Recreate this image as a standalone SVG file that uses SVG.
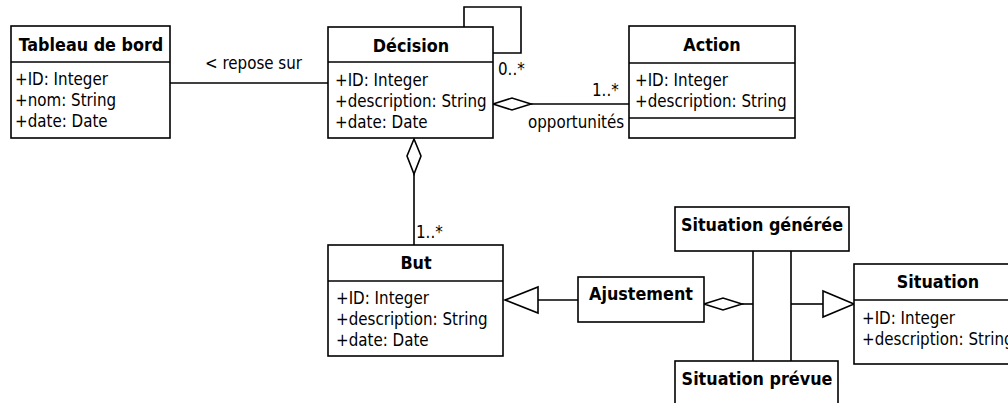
<svg xmlns="http://www.w3.org/2000/svg" width="1008" height="403" viewBox="0 0 1008 403">
<style>
.box{fill:#fff;stroke:#000;stroke-width:1.6}
.ln{fill:none;stroke:#000;stroke-width:1.6}
.hd{fill:#fff;stroke:#000;stroke-width:1.6}
text{font-family:"DejaVu Sans Condensed","DejaVu Sans",sans-serif;font-size:16.8px;fill:#000}
.t{font-weight:bold;font-size:17.8px;text-anchor:middle}
</style>
<rect width="1008" height="403" fill="#fff"/>
<g id="connectors">
<line class="ln" x1="170" y1="83" x2="328" y2="83"/>
<text x="205" y="69">&lt; repose sur</text>
<path class="ln" d="M464,27 V7 H521 V53 H493"/>
<text x="498" y="75">0..*</text>
<line class="ln" x1="531" y1="104" x2="629" y2="104"/>
<path class="hd" d="M493,104 L512,98 L531,104 L512,110 Z"/>
<text x="592" y="96">1..*</text>
<text x="528" y="128">opportunités</text>
<line class="ln" x1="414" y1="174" x2="414" y2="245"/>
<path class="hd" d="M414,139 L421,156 L414,174 L407,156 Z"/>
<text x="416" y="238">1..*</text>
<line class="ln" x1="538" y1="300" x2="578" y2="300"/>
<path class="hd" d="M505,300 L538,287 L538,313 Z"/>
<line class="ln" x1="742" y1="304" x2="753" y2="304"/>
<path class="hd" d="M704,304 L723,298 L742,304 L723,310 Z"/>
<line class="ln" x1="753" y1="251" x2="753" y2="361"/>
<line class="ln" x1="791" y1="251" x2="791" y2="361"/>
<line class="ln" x1="791" y1="304" x2="823" y2="304"/>
<path class="hd" d="M854,304 L823,291 L823,317 Z"/>
</g>
<g id="tableau">
<rect class="box" x="11" y="26" width="159" height="112"/>
<line class="ln" x1="11" y1="62" x2="170" y2="62"/>
<text class="t" x="91" y="51">Tableau de bord</text>
<text x="15" y="85">+ID: Integer</text>
<text x="15" y="106">+nom: String</text>
<text x="15" y="127">+date: Date</text>
</g>
<g id="decision">
<rect class="box" x="328" y="27" width="165" height="111"/>
<line class="ln" x1="328" y1="62" x2="493" y2="62"/>
<text class="t" x="411" y="52">Décision</text>
<text x="335" y="86">+ID: Integer</text>
<text x="335" y="107">+description: String</text>
<text x="335" y="128">+date: Date</text>
</g>
<g id="action">
<rect class="box" x="629" y="26" width="166" height="112"/>
<line class="ln" x1="629" y1="63" x2="795" y2="63"/>
<line class="ln" x1="629" y1="118" x2="795" y2="118"/>
<text class="t" x="712" y="51">Action</text>
<text x="635" y="86">+ID: Integer</text>
<text x="635" y="107">+description: String</text>
</g>
<g id="but">
<rect class="box" x="328" y="245" width="175" height="111"/>
<line class="ln" x1="328" y1="281" x2="503" y2="281"/>
<text class="t" x="416" y="269">But</text>
<text x="336" y="304">+ID: Integer</text>
<text x="336" y="325">+description: String</text>
<text x="336" y="346">+date: Date</text>
</g>
<g id="ajustement">
<rect class="box" x="578" y="277" width="126" height="45"/>
<text class="t" x="641" y="300">Ajustement</text>
</g>
<g id="situation-generee">
<rect class="box" x="675" y="207" width="174" height="44"/>
<text class="t" x="762" y="231">Situation générée</text>
</g>
<g id="situation-prevue">
<rect class="box" x="675" y="361" width="163" height="60"/>
<text class="t" x="757" y="385">Situation prévue</text>
</g>
<g id="situation">
<rect class="box" x="854" y="264" width="170" height="100"/>
<line class="ln" x1="854" y1="300" x2="1024" y2="300"/>
<text class="t" x="938" y="288">Situation</text>
<text x="862" y="324">+ID: Integer</text>
<text x="862" y="345">+description: String</text>
</g>
</svg>
